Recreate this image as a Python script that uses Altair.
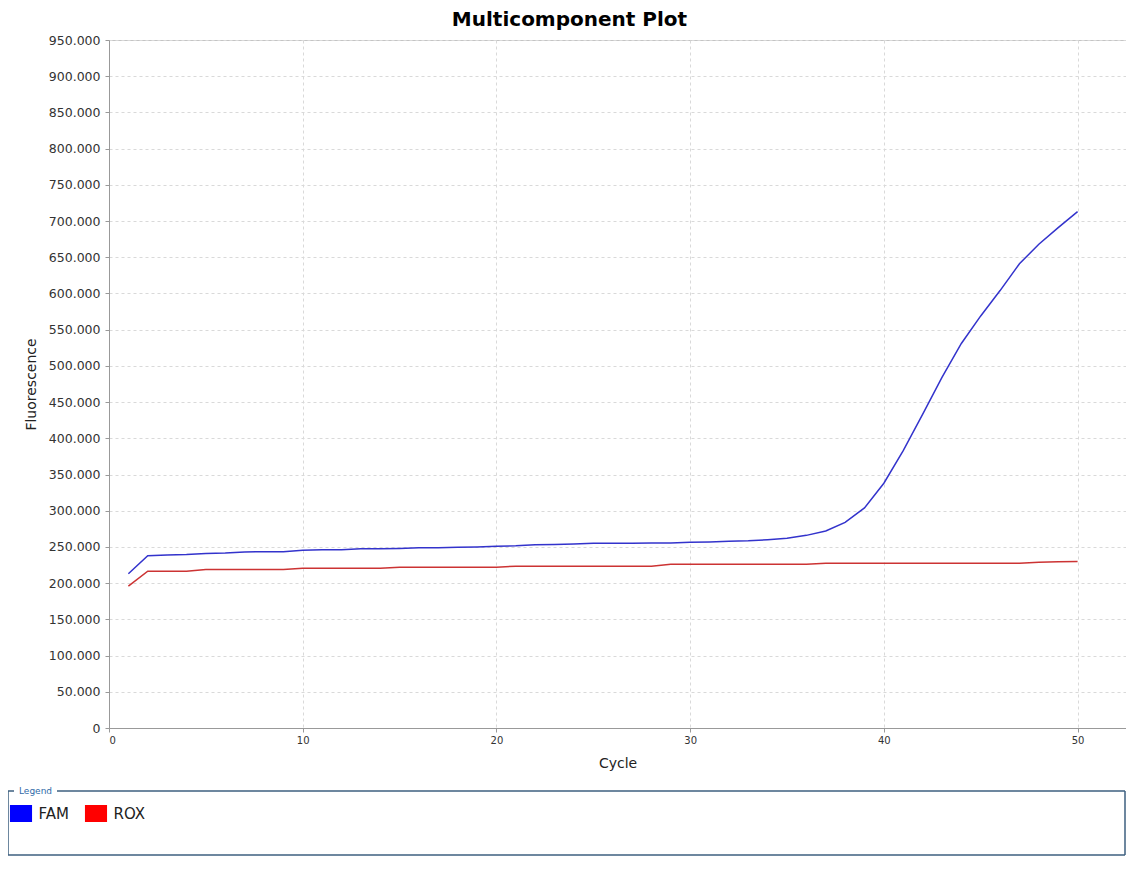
import altair as alt
import pandas as pd

cycles = list(range(1, 51))

fam_k = [213, 238, 239, 239.5, 241, 241.5, 243, 243.5, 243.5, 245.5,
         246, 246, 247.5, 247.5, 248, 249, 249, 249.5, 250, 251,
         251.5, 253, 253.5, 254, 255, 255, 255, 255.5, 255.5, 256.5,
         257, 258, 258.5, 260, 262, 266, 272, 284, 304, 338,
         383, 433, 484, 531, 569, 604, 641, 668, 691, 713]

rox_k = [196, 216.5, 216.5, 216.5, 219, 219, 219, 219, 219, 220.5,
         220.5, 220.5, 220.5, 220.5, 222, 222, 222, 222, 222, 222,
         223.5, 223.5, 223.5, 223.5, 223.5, 223.5, 223.5, 223.5, 226, 226,
         226, 226, 226, 226, 226, 226, 227.5, 227.5, 227.5, 227.5,
         227.5, 227.5, 227.5, 227.5, 227.5, 227.5, 227.5, 229, 229.5, 230]

dyes = ["FAM", "ROX"]
dye_colors = ["#0000ff", "#ff0000"]
line_colors = ["#3333cc", "#cc3333"]
y_ticks = list(range(0, 950001, 50000))
x_ticks = [0, 10, 20, 30, 40, 50]

rows = []
for c, v in zip(cycles, fam_k):
    rows.append({"Cycle": c, "Fluorescence": v * 1000, "Dye": "FAM"})
for c, v in zip(cycles, rox_k):
    rows.append({"Cycle": c, "Fluorescence": v * 1000, "Dye": "ROX"})
df = pd.DataFrame(rows)

FONT = "DejaVu Sans"

x_axis = alt.Axis(values=x_ticks, title="Cycle", format="d",
                  labelFont=FONT, labelFontSize=10, labelColor="#333333",
                  titleFont=FONT, titleFontSize=14, titleFontWeight="normal",
                  titleColor="#222222", titlePadding=11,
                  tickSize=4, tickColor="#999999", labelPadding=3,
                  labelOverlap=False,
                  domainColor="#999999", gridColor="#d9d9d9",
                  gridDash=[3, 3])
y_axis = alt.Axis(values=y_ticks, title="Fluorescence",
                  labelExpr="datum.value == 0 ? '0' : replace(format(datum.value, ','), ',', '.')",
                  labelFont=FONT, labelFontSize=12.5, labelColor="#333333",
                  titleFont=FONT, titleFontSize=14, titleFontWeight="normal",
                  titleColor="#222222", titlePadding=10,
                  tickSize=4, tickColor="#999999", labelPadding=5,
                  labelOverlap=False,
                  domainColor="#999999", gridColor="#d9d9d9",
                  gridDash=[3, 3])
x_scale = alt.Scale(domain=[0, 52.5], nice=False, zero=False)
y_scale = alt.Scale(domain=[0, 950000], nice=False)

lines = alt.Chart(df).mark_line(strokeWidth=1.5, clip=True).encode(
    x=alt.X("Cycle:Q", scale=x_scale, axis=x_axis),
    y=alt.Y("Fluorescence:Q", scale=y_scale, axis=y_axis),
    color=alt.Color("Dye:N", scale=alt.Scale(domain=dyes, range=line_colors),
                    legend=None),
)

legend_pts = alt.Chart(df).mark_point(filled=True, size=0, shape="square").encode(
    x=alt.X("Cycle:Q", scale=x_scale, axis=x_axis),
    y=alt.Y("Fluorescence:Q", scale=y_scale, axis=y_axis),
    fill=alt.Fill("Dye:N", scale=alt.Scale(domain=dyes, range=dye_colors),
                  legend=alt.Legend(
                      orient="none", legendX=-96.5, legendY=765,
                      direction="horizontal", title=None,
                      symbolType="M-1.3,-1H1.3V1H-1.3Z", symbolSize=289,
                      symbolStrokeWidth=0, symbolOpacity=1,
                      labelFont=FONT, labelFontSize=15,
                      labelColor="#222222", labelOffset=9, columnPadding=15,
                      padding=0)),
)

one = pd.DataFrame({"k": [0]})
BOX = "#3d5f7f"
L, R, T, B = -101, 1016, 751, 815

def seg(x1, x2, y1, y2):
    return alt.Chart(one).mark_rule(color=BOX, strokeWidth=1.5).encode(
        x=alt.value(x1), x2=alt.value(x2), y=alt.value(y1), y2=alt.value(y2))

box = alt.layer(
    seg(L, L, T, B),
    seg(R, R, T, B),
    seg(L, R, B, B),
    seg(L, -95, T, T),
    seg(-52, R, T, T),
    alt.Chart(one).mark_text(text="Legend", font=FONT, fontSize=9, color="#2f6aa8",
                             align="left", baseline="middle").encode(
        x=alt.value(-90), y=alt.value(T)),
)

chart = alt.layer(lines, legend_pts, box).resolve_scale(
    color="independent", fill="independent"
).properties(
    width=1017, height=688,
    title=alt.TitleParams("Multicomponent Plot", font=FONT, fontSize=20,
                          fontWeight="bold", color="#000000", anchor="middle",
                          dx=-48, offset=4),
    autosize=alt.AutoSizeParams(type="none"),
    padding={"left": 101, "top": 32, "right": 0, "bottom": 136},
).configure_view(stroke="#c4c4c4", strokeWidth=1
).configure_axis(grid=True)

chart.save("out.html", embed_options={"renderer": "svg", "actions": False})
